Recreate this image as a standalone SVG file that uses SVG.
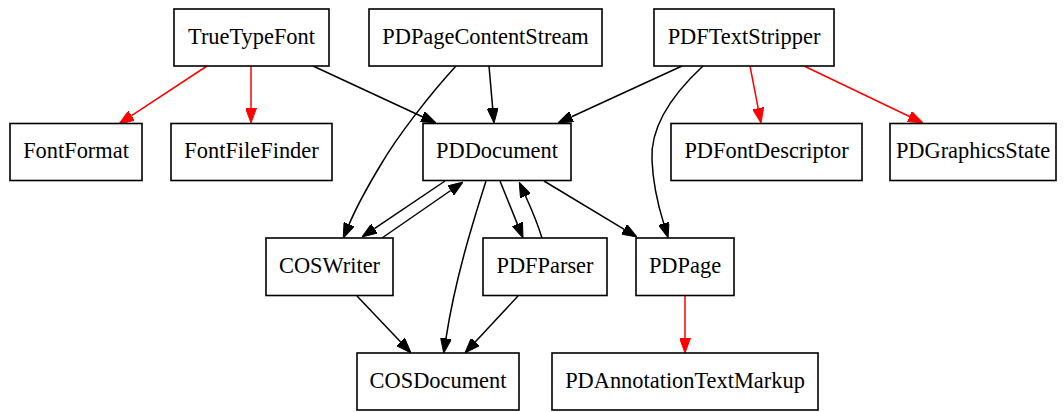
<svg xmlns="http://www.w3.org/2000/svg" width="1064" height="412" viewBox="0 0 1064 412">
  <style>
    .node rect { fill: #ffffff; stroke: #000000; stroke-width: 1.6; }
    .node text { font-family: "Liberation Serif", "DejaVu Serif", serif; font-size: 22.4px; fill: #000000; text-anchor: middle; }
    .edge { fill: none; stroke-width: 1.5; }
    .black { stroke: #000000; marker-end: url(#head-black); }
    .red { stroke: #ff0000; marker-end: url(#head-red); }
  </style>
  <defs>
    <marker id="head-black" viewBox="0 0 15 11" markerWidth="15" markerHeight="11" refX="0" refY="5.5" orient="auto" markerUnits="userSpaceOnUse">
      <path d="M0,0 L15,5.5 L0,11 Z" fill="#000000" stroke="#000000" stroke-width="1"/>
    </marker>
    <marker id="head-red" viewBox="0 0 15 11" markerWidth="15" markerHeight="11" refX="0" refY="5.5" orient="auto" markerUnits="userSpaceOnUse">
      <path d="M0,0 L15,5.5 L0,11 Z" fill="#ff0000" stroke="#ff0000" stroke-width="1"/>
    </marker>
  </defs>
  <rect x="0" y="0" width="1064" height="412" fill="#ffffff"/>

  <g id="edges">
    <!-- red dependencies -->
    <path class="edge red" d="M207,66 L131.5,115.7"/>
    <path class="edge red" d="M251,66 L251,108"/>
    <path class="edge red" d="M750,66 L758.2,108.3"/>
    <path class="edge red" d="M804,66 L909.5,116.5"/>
    <path class="edge red" d="M685,296 L685,338"/>
    <!-- black dependencies -->
    <path class="edge black" d="M313,66 L422.4,116.7"/>
    <path class="edge black" d="M489,66 L492.7,108.1"/>
    <path class="edge black" d="M456,66 C432,92 398,135 380,166 C368,186 356,208 349.1,224.3"/>
    <path class="edge black" d="M682,66 L571.6,116.7"/>
    <path class="edge black" d="M703,66 C675,92 650,125 652,160 C653,185 658,205 663.7,223.4"/>
    <path class="edge black" d="M445,181 L374.4,228.6"/>
    <path class="edge black" d="M382,238 L450.7,190.5"/>
    <path class="edge black" d="M486,181 C472,225 455,280 446,338.3"/>
    <path class="edge black" d="M500,181 L517.4,224.1"/>
    <path class="edge black" d="M542,238 C538,225 531,208 525.5,196"/>
    <path class="edge black" d="M544,181 L624.2,229.3"/>
    <path class="edge black" d="M357,296 L400.7,342.1"/>
    <path class="edge black" d="M518,296 L475.2,342"/>
  </g>

  <g id="TrueTypeFont" class="node">
    <rect x="174" y="9" width="155" height="57"/>
    <text x="251.5" y="44">TrueTypeFont</text>
  </g>
  <g id="PDPageContentStream" class="node">
    <rect x="369" y="9" width="233" height="57"/>
    <text x="485.5" y="44">PDPageContentStream</text>
  </g>
  <g id="PDFTextStripper" class="node">
    <rect x="654" y="9" width="180" height="57"/>
    <text x="744" y="44">PDFTextStripper</text>
  </g>
  <g id="FontFormat" class="node">
    <rect x="10" y="123.5" width="132" height="57"/>
    <text x="76" y="158">FontFormat</text>
  </g>
  <g id="FontFileFinder" class="node">
    <rect x="171" y="123.5" width="161" height="57"/>
    <text x="251.5" y="158">FontFileFinder</text>
  </g>
  <g id="PDDocument" class="node">
    <rect x="423" y="123.5" width="148" height="57"/>
    <text x="497" y="158">PDDocument</text>
  </g>
  <g id="PDFontDescriptor" class="node">
    <rect x="671" y="123.5" width="191" height="57"/>
    <text x="766.5" y="158">PDFontDescriptor</text>
  </g>
  <g id="PDGraphicsState" class="node">
    <rect x="890" y="123.5" width="166" height="57"/>
    <text x="973" y="158">PDGraphicsState</text>
  </g>
  <g id="COSWriter" class="node">
    <rect x="266" y="238" width="127" height="57.5"/>
    <text x="329.5" y="272.5">COSWriter</text>
  </g>
  <g id="PDFParser" class="node">
    <rect x="483" y="238" width="124" height="57.5"/>
    <text x="545" y="272.5">PDFParser</text>
  </g>
  <g id="PDPage" class="node">
    <rect x="636" y="238" width="98" height="57.5"/>
    <text x="685" y="272.5">PDPage</text>
  </g>
  <g id="COSDocument" class="node">
    <rect x="357" y="353" width="162" height="57"/>
    <text x="438" y="387.5">COSDocument</text>
  </g>
  <g id="PDAnnotationTextMarkup" class="node">
    <rect x="552" y="353" width="266" height="57"/>
    <text x="685" y="387.5">PDAnnotationTextMarkup</text>
  </g>
</svg>
